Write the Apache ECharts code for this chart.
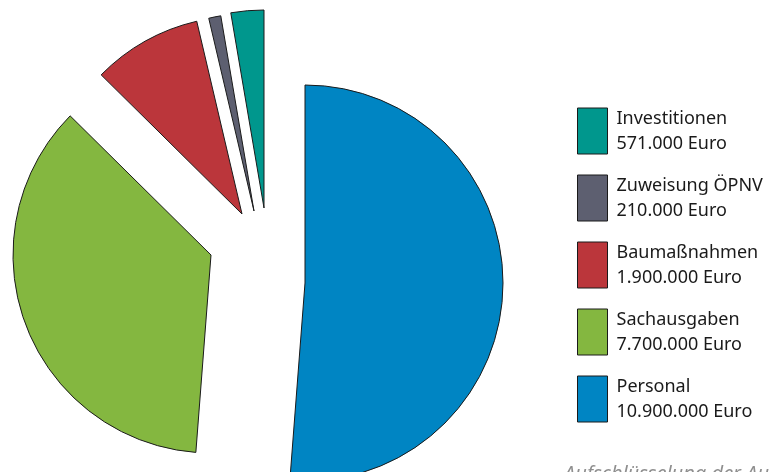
<!DOCTYPE html>
<html>
<head>
<meta charset="utf-8">
<script src="https://cdn.jsdelivr.net/npm/echarts@6/dist/echarts.min.js"></script>
<style>
html,body{margin:0;padding:0;background:#fff;}
#chart{width:769px;height:472px;}
</style>
</head>
<body>
<div id="chart"></div>
<script>
// Data (clockwise from top)
var categories = ['Personal', 'Sachausgaben', 'Baumaßnahmen', 'Zuweisung ÖPNV', 'Investitionen'];
var values = [10900000, 7700000, 1900000, 210000, 571000];
var colors = ['#0085c3', '#84b740', '#bb363b', '#5d5f70', '#00978d'];
var legendOrder = ['Investitionen', 'Zuweisung ÖPNV', 'Baumaßnahmen', 'Sachausgaben', 'Personal'];
var footnote = 'Aufschlüsselung der Ausgaben';

// per-slice exploded centres (layout)
var centers = [[305, 283], [211, 255], [242, 214], [254, 211], [264, 208]];
var R = 198;

function fmt(v) {
  return String(v).replace(/\B(?=(\d{3})+(?!\d))/g, '.');
}

var series = categories.map(function (cat, k) {
  return {
    type: 'pie',
    center: centers[k],
    radius: [0, R],
    startAngle: 90,
    clockwise: true,
    silent: true,
    label: {show: false},
    labelLine: {show: false},
    emphasis: {disabled: true},
    data: categories.map(function (c, i) {
      return {
        name: c,
        value: values[i],
        itemStyle: i === k
          ? {color: colors[i], borderColor: '#1a1a1a', borderWidth: 1}
          : {color: 'rgba(0,0,0,0)', borderWidth: 0}
      };
    })
  };
});

var chart = echarts.init(document.getElementById('chart'), null, {renderer: 'canvas'});
chart.setOption({
  animation: false,
  title: {
    text: footnote,
    left: 559,
    top: 458,
    padding: 5,
    textStyle: {fontFamily: 'Noto Sans', fontStyle: 'italic', fontWeight: 'normal', fontSize: 20, lineHeight: 22, color: '#8f8f8f'}
  },
  legend: {
    orient: 'vertical',
    left: 572,
    top: 101,
    itemWidth: 30,
    itemHeight: 46,
    itemGap: 17,
    icon: 'rect',
    selectedMode: false,
    data: legendOrder.map(function (n) {
      var i = categories.indexOf(n);
      return {name: n, itemStyle: {color: colors[i], borderColor: '#1a1a1a', borderWidth: 1}};
    }),
    formatter: function (n) {
      var i = categories.indexOf(n);
      return n + '\n' + fmt(values[i]) + ' Euro';
    },
    textStyle: {fontFamily: 'Noto Sans', fontSize: 18, color: '#1a1a1a', lineHeight: 25, padding: [0, 0, 0, 4]}
  },
  series: series
});
</script>
</body>
</html>
